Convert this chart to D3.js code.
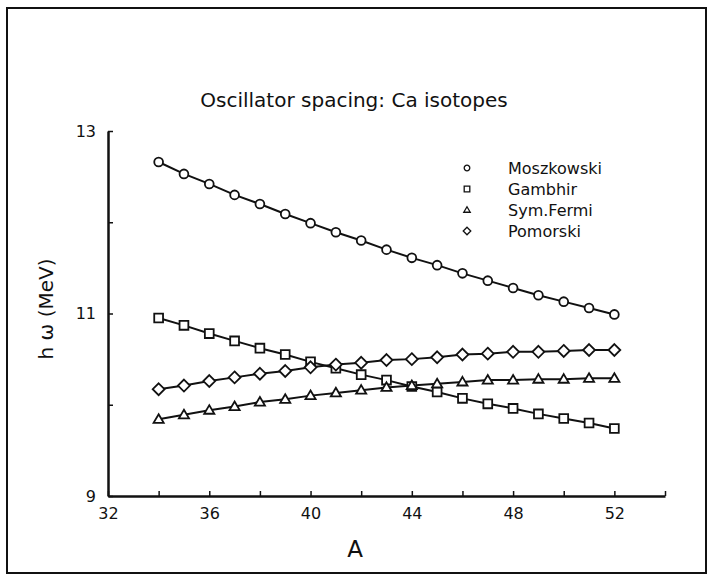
<!DOCTYPE html>
<html lang="en">
<head>
  <meta charset="utf-8">
  <title>Oscillator spacing: Ca isotopes</title>
  <script src="https://d3js.org/d3.v7.min.js"></script>
  <style>
    body { margin: 0; background: #fff; }
    svg text { font-family: "DejaVu Sans", sans-serif; fill: #111; }
    .axis path, .axis line { stroke: #111; }
    .axis path { stroke-width: 2.5; }
    .axis line { stroke-width: 1.5; }
    .axis text { font-size: 16px; }
  </style>
</head>
<body>
<div id="chart"></div>
<script>
"use strict"

// mass numbers of the Ca isotopes
var massNumbers = [34, 35, 36, 37, 38, 39, 40, 41, 42, 43, 44, 45, 46, 47, 48, 49, 50, 51, 52];

// h-omega (MeV)
var moszkowski = [12.66, 12.53, 12.42, 12.30, 12.20, 12.09, 11.99, 11.89, 11.80, 11.70,
                  11.61, 11.53, 11.44, 11.36, 11.28, 11.20, 11.13, 11.06, 10.99];
var gambhir    = [10.95, 10.87, 10.78, 10.70, 10.62, 10.55, 10.47, 10.40, 10.33, 10.27,
                  10.20, 10.14, 10.07, 10.01, 9.96, 9.90, 9.85, 9.80, 9.74];
var symFermi   = [9.84, 9.89, 9.94, 9.98, 10.03, 10.06, 10.10, 10.13, 10.16, 10.19,
                  10.21, 10.23, 10.25, 10.27, 10.27, 10.28, 10.28, 10.29, 10.29];
var pomorski   = [10.17, 10.21, 10.26, 10.30, 10.34, 10.37, 10.41, 10.44, 10.46, 10.49,
                  10.50, 10.52, 10.55, 10.56, 10.58, 10.58, 10.59, 10.60, 10.60];

var seriesNames = ["Moszkowski", "Gambhir", "Sym.Fermi", "Pomorski"];
var seriesShapes = ["circle", "square", "triangle", "diamond"];

var xTicks = [32, 34, 36, 38, 40, 42, 44, 46, 48, 50, 52, 54];
var xLabels = [32, 36, 40, 44, 48, 52];
var yTicks = [9, 10, 11, 12, 13];
var yLabels = [9, 11, 13];

var larguraSVG = 715, alturaSVG = 581;
var margin = {top: 131, right: 50, bottom: 85, left: 108};
var w = larguraSVG - margin.left - margin.right,
    h = alturaSVG - margin.top - margin.bottom;

var x = d3.scaleLinear().domain([32, 54]).range([0, w]);
var y = d3.scaleLinear().domain([9, 13]).range([h, 0]);

var svg = d3.select("#chart").append("svg")
  .attr("width", larguraSVG)
  .attr("height", alturaSVG);

// outer frame
svg.append("rect")
  .attr("x", 7).attr("y", 8)
  .attr("width", 699).attr("height", 565)
  .attr("fill", "none").attr("stroke", "#111").attr("stroke-width", 2);

svg.append("text")
  .attr("x", 354).attr("y", 107)
  .attr("text-anchor", "middle")
  .attr("font-size", 20)
  .text("Oscillator spacing: Ca isotopes");

var g = svg.append("g")
  .attr("transform", "translate(" + margin.left + "," + margin.top + ")");

// marker shapes
function shapePath(kind, s) {
  if (kind == "circle") return d3.symbol().type(d3.symbolCircle).size(Math.PI * s * s)();
  if (kind == "square") return "M" + (-s) + "," + (-s) + "h" + 2 * s + "v" + 2 * s + "h" + (-2 * s) + "Z";
  if (kind == "triangle") {
    var t = s * 1.15;
    return "M0," + (-t) + "L" + t + "," + (t * 0.7) + "L" + (-t) + "," + (t * 0.7) + "Z";
  }
  var d = s * 1.35;
  return "M0," + (-d) + "L" + d + ",0L0," + d + "L" + (-d) + ",0Z";
}

var allSeries = [moszkowski, gambhir, symFermi, pomorski];

var line = d3.line()
  .x(function (d, i) { return x(massNumbers[i]); })
  .y(function (d) { return y(d); });

allSeries.forEach(function (vals, k) {
  g.append("path")
    .attr("d", line(vals))
    .attr("fill", "none")
    .attr("stroke", "#111")
    .attr("stroke-width", 2);
});

allSeries.forEach(function (vals, k) {
  g.selectAll(".m" + k)
    .data(vals)
    .enter().append("path")
      .attr("class", "m" + k)
      .attr("transform", function (d, i) { return "translate(" + x(massNumbers[i]) + "," + y(d) + ")"; })
      .attr("d", shapePath(seriesShapes[k], 4.4))
      .attr("fill", "#fff")
      .attr("stroke", "#111")
      .attr("stroke-width", 1.8);
});

// axes, ticks pointing inward
g.append("g")
  .attr("class", "axis")
  .attr("transform", "translate(0," + h + ")")
  .call(d3.axisBottom(x).tickValues(xTicks).tickSizeInner(-5).tickSizeOuter(0).tickPadding(12)
    .tickFormat(function (d) { return xLabels.indexOf(d) >= 0 ? d : ""; }));

g.append("g")
  .attr("class", "axis")
  .call(d3.axisLeft(y).tickValues(yTicks).tickSizeInner(-5).tickSizeOuter(0).tickPadding(12)
    .tickFormat(function (d) { return yLabels.indexOf(d) >= 0 ? d : ""; }));

g.selectAll(".axis .domain").attr("stroke-width", 2.5);

svg.append("text")
  .attr("x", 355).attr("y", 557)
  .attr("text-anchor", "middle")
  .attr("font-size", 23)
  .text("A");

svg.append("text")
  .attr("transform", "translate(53,309) rotate(-90)")
  .attr("text-anchor", "middle")
  .attr("font-size", 20)
  .text("h \u03c9 (MeV)");

// legend
var legend = svg.append("g").attr("transform", "translate(467,168)");
seriesNames.forEach(function (name, k) {
  var row = legend.append("g").attr("transform", "translate(0," + k * 21 + ")");
  row.append("path")
    .attr("d", shapePath(seriesShapes[k], 2.8))
    .attr("fill", "none")
    .attr("stroke", "#111")
    .attr("stroke-width", 1.3);
  row.append("text")
    .attr("x", 41).attr("y", 6)
    .attr("font-size", 16)
    .text(name);
});
</script>
</body>
</html>
